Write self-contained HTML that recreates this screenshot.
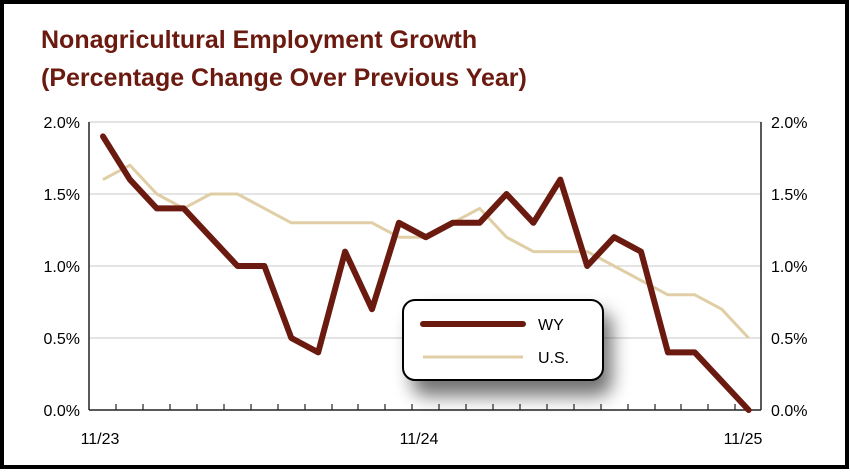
<!DOCTYPE html>
<html><head><style>
html,body{margin:0;padding:0;background:#fff;}
svg{display:block;}
</style></head><body>
<svg width="850" height="473" viewBox="0 0 850 473" xmlns="http://www.w3.org/2000/svg">
<defs>
<filter id="sh" x="-30%" y="-30%" width="170%" height="180%"><feGaussianBlur stdDeviation="9"/></filter>
</defs>
<rect x="0" y="0" width="850" height="473" fill="#fff"/>
<rect x="2" y="2" width="845" height="465" fill="none" stroke="#000" stroke-width="4"/>
<g font-family="Liberation Sans, sans-serif" font-weight="bold" fill="#6b1a10" font-size="25">
<text x="41" y="48">Nonagricultural Employment Growth</text>
<text x="41" y="86">(Percentage Change Over Previous Year)</text>
</g>
<g stroke="#c8c8c8" stroke-width="1">
<line x1="89" y1="122" x2="761" y2="122"/>
<line x1="89" y1="194" x2="761" y2="194"/>
<line x1="89" y1="266" x2="761" y2="266"/>
<line x1="89" y1="338" x2="761" y2="338"/>
</g>
<g stroke="#222" stroke-width="1.5" fill="none">
<line x1="89" y1="122" x2="89" y2="410"/>
<line x1="761" y1="122" x2="761" y2="410"/>
<line x1="89" y1="410" x2="761" y2="410"/>
</g>
<g font-family="Liberation Sans, sans-serif" font-size="16" fill="#000">
<text x="80" y="128" text-anchor="end">2.0%</text>
<text x="80" y="200" text-anchor="end">1.5%</text>
<text x="80" y="272" text-anchor="end">1.0%</text>
<text x="80" y="344" text-anchor="end">0.5%</text>
<text x="80" y="416" text-anchor="end">0.0%</text>
<text x="771" y="128">2.0%</text>
<text x="771" y="200">1.5%</text>
<text x="771" y="272">1.0%</text>
<text x="771" y="344">0.5%</text>
<text x="771" y="416">0.0%</text>
<text x="100" y="444" text-anchor="middle">11/23</text>
<text x="419" y="444" text-anchor="middle">11/24</text>
<text x="743" y="444" text-anchor="middle">11/25</text>
</g>
<polyline fill="none" stroke="#e0cfa6" stroke-width="3" stroke-linejoin="round" points="103,179.6 129.9,165.2 156.8,194 183.7,208.4 210.6,194 237.5,194 264.4,208.4 291.3,222.8 318.2,222.8 345.1,222.8 372,222.8 398.9,237.2 425.8,237.2 452.7,222.8 479.6,208.4 506.5,237.2 533.4,251.6 560.3,251.6 587.2,251.6 614.1,266 641,280.4 667.9,294.8 694.8,294.8 721.7,309.2 748.6,338"/>
<polyline fill="none" stroke="#6b1a10" stroke-width="6" stroke-linejoin="round" stroke-linecap="round" points="103,136.4 129.9,179.6 156.8,208.4 183.7,208.4 210.6,237.2 237.5,266 264.4,266 291.3,338 318.2,352.4 345.1,251.6 372,309.2 398.9,222.8 425.8,237.2 452.7,222.8 479.6,222.8 506.5,194 533.4,222.8 560.3,179.6 587.2,266 614.1,237.2 641,251.6 667.9,352.4 694.8,352.4 721.7,381.2 748.6,410"/>
<rect x="412" y="312" width="200" height="84" rx="14" fill="#000" opacity="0.55" filter="url(#sh)"/>
<rect x="403" y="300" width="200" height="80" rx="12" fill="#fff" stroke="#000" stroke-width="2"/>
<line x1="423" y1="324" x2="523" y2="324" stroke="#6b1a10" stroke-width="6" stroke-linecap="round"/>
<line x1="423" y1="357" x2="523" y2="357" stroke="#e0cfa6" stroke-width="3"/>
<g font-family="Liberation Sans, sans-serif" font-size="16" fill="#000">
<text x="538" y="330">WY</text>
<text x="538" y="363">U.S.</text>
</g>
<g stroke="#222" stroke-width="1.2">
<line x1="116" y1="410" x2="116" y2="404"/><line x1="143" y1="410" x2="143" y2="404"/><line x1="170" y1="410" x2="170" y2="404"/><line x1="197" y1="410" x2="197" y2="404"/><line x1="224" y1="410" x2="224" y2="404"/><line x1="251" y1="410" x2="251" y2="404"/><line x1="278" y1="410" x2="278" y2="404"/><line x1="305" y1="410" x2="305" y2="404"/><line x1="332" y1="410" x2="332" y2="404"/><line x1="358" y1="410" x2="358" y2="404"/><line x1="385" y1="410" x2="385" y2="404"/><line x1="412" y1="410" x2="412" y2="404"/><line x1="439" y1="410" x2="439" y2="404"/><line x1="466" y1="410" x2="466" y2="404"/><line x1="493" y1="410" x2="493" y2="404"/><line x1="520" y1="410" x2="520" y2="404"/><line x1="547" y1="410" x2="547" y2="404"/><line x1="574" y1="410" x2="574" y2="404"/><line x1="601" y1="410" x2="601" y2="404"/><line x1="628" y1="410" x2="628" y2="404"/><line x1="655" y1="410" x2="655" y2="404"/><line x1="681" y1="410" x2="681" y2="404"/><line x1="708" y1="410" x2="708" y2="404"/><line x1="735" y1="410" x2="735" y2="404"/>
</g>
</svg>
</body></html>
